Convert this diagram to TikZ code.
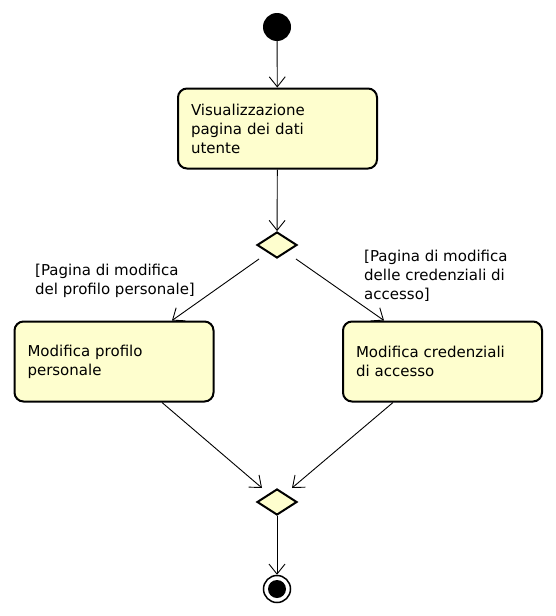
\documentclass[tikz,border=0pt]{standalone}
\usepackage{fontspec}
\setmainfont{DejaVu Sans}
\usetikzlibrary{arrows.meta,shapes.geometric}
\definecolor{uml}{HTML}{FEFECE}
\begin{document}
\begin{tikzpicture}[x=1pt,y=-1pt,
 every node/.style={font=\fontsize{15}{19}\selectfont},
 act/.style={draw, line width=2pt, rounded corners=9pt, fill=uml, minimum width=199pt, minimum height=80pt, text width=173pt, align=left, inner sep=0pt},
 dec/.style={diamond, draw, line width=2pt, fill=uml, minimum width=40pt, minimum height=26pt, inner sep=0pt},
 flow/.style={line width=0.9pt, -{Straight Barb[length=10pt,width=16pt,line width=0.9pt]}},
 guard/.style={anchor=north west, align=left, inner sep=0pt}]
\useasboundingbox (0,0) rectangle (556,616);
\node[circle, fill=black, minimum size=28pt, inner sep=0pt] (start) at (277,27) {};
\node[act] (b1) at (277.5,128.5) {Visualizzazione\\pagina dei dati\\utente};
\node[dec] (d1) at (277,245) {};
\node[act] (b2) at (114,361.5) {Modifica profilo\\personale};
\node[act] (b3) at (442.5,361.5) {Modifica credenziali\\di accesso};
\node[guard] (g1) at (35,264) {[Pagina di modifica\\del profilo personale]};
\node[guard] (g2) at (364,250) {[Pagina di modifica\\delle credenziali di\\accesso]};
\node[dec] (d2) at (277,502) {};
\node[circle, draw, line width=1.5pt, fill=white, minimum size=27pt, inner sep=0pt] (end) at (277,589) {};
\node[circle, fill=black, minimum size=18pt, inner sep=0pt] (endin) at (end) {};
\draw[flow] (start) -- (b1);
\draw[flow] (b1) -- (d1);
\draw[flow] ([xshift=-18pt]d1.south) -- ([xshift=58pt]b2.north);
\draw[flow] ([xshift=19pt]d1.south) -- ([xshift=-58.5pt]b3.north);
\draw[flow] ([xshift=48pt]b2.south) -- ([xshift=-15pt]d2.north);
\draw[flow] ([xshift=-49.5pt]b3.south) -- ([xshift=15pt]d2.north);
\draw[flow] (d2) -- (end);
\end{tikzpicture}
\end{document}
